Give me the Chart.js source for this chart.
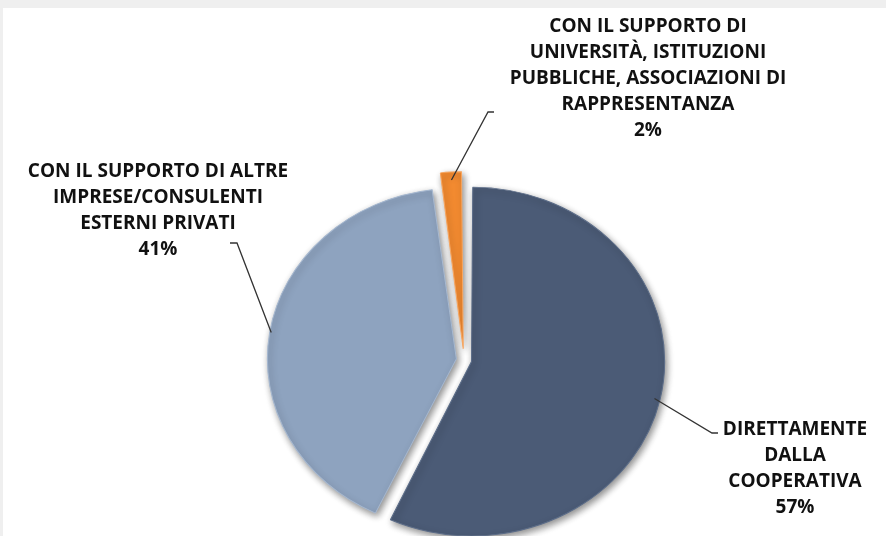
<!DOCTYPE html>
<html>
<head>
<meta charset="utf-8">
<script src="https://cdn.jsdelivr.net/npm/chart.js@4/dist/chart.umd.min.js"></script>
<style>
  html, body { margin: 0; padding: 0; background: #efefef; overflow: hidden; }
  #pieChart { display: block; margin: 8px 0 0 3px; background: #fff; }
</style>
</head>
<body>
<canvas id="pieChart" width="883" height="528"></canvas>
<script>
// categories (label lines), shares in percent, slice colours
const categories = [
  ['DIRETTAMENTE', 'DALLA', 'COOPERATIVA'],
  ['CON IL SUPPORTO DI ALTRE', 'IMPRESE/CONSULENTI', 'ESTERNI PRIVATI'],
  ['CON IL SUPPORTO DI', 'UNIVERSITÀ, ISTITUZIONI', 'PUBBLICHE, ASSOCIAZIONI DI', 'RAPPRESENTANZA']
];
const shares = [57, 41, 2];
const sliceColors = ['#4b5b76', '#8ea3bf', '#f28a30'];
const edgeColors = ['#5c6d89', '#a6b8d0', '#f7a660'];

// label placement (canvas px): text centre x, first line y, elbow of the leader line
const labelSpots = [
  { x: 792, y: 422, elbow: [709, 425], tick: 6 },
  { x: 155, y: 164, elbow: [234, 235], tick: -7 },
  { x: 645, y: 19, elbow: [485, 104], tick: 6 }
];
const lineGap = 26;
const squash = { x: 1.03, y: 0.93 };

const ellipsePlugin = {
  id: 'ellipse',
  beforeDatasetsDraw(chart) {
    const arc = chart.getDatasetMeta(0).data[0];
    const ctx = chart.ctx;
    ctx.save();
    ctx.translate(arc.x, arc.y);
    ctx.scale(squash.x, squash.y);
    ctx.translate(-arc.x, -arc.y);
    ctx.shadowColor = 'rgba(0,0,0,0.45)';
    ctx.shadowBlur = 7;
    ctx.shadowOffsetX = 2;
    ctx.shadowOffsetY = 3;
  },
  afterDatasetsDraw(chart) {
    chart.ctx.restore();
  }
};

const labelPlugin = {
  id: 'calloutLabels',
  afterDatasetsDraw(chart) {
    const ctx = chart.ctx;
    const arcs = chart.getDatasetMeta(0).data;
    ctx.save();
    ctx.strokeStyle = '#333';
    ctx.lineWidth = 1.3;
    ctx.fillStyle = '#111';
    ctx.font = 'bold 19px "Open Sans"';
    ctx.textAlign = 'center';
    ctx.textBaseline = 'middle';
    arcs.forEach((arc, i) => {
      const p = arc.getProps(['x', 'y', 'startAngle', 'endAngle', 'outerRadius']);
      const mid = (p.startAngle + p.endAngle) / 2;
      const r = p.outerRadius + (arc.options.offset || 0) / 4 + 2;
      const sx = p.x + squash.x * r * Math.cos(mid);
      const sy = p.y + squash.y * r * Math.sin(mid);
      const spot = labelSpots[i];
      ctx.beginPath();
      ctx.moveTo(sx, sy);
      ctx.lineTo(spot.elbow[0], spot.elbow[1]);
      ctx.lineTo(spot.elbow[0] + spot.tick, spot.elbow[1]);
      ctx.stroke();
      const lines = categories[i].concat([shares[i] + '%']);
      lines.forEach((t, k) => ctx.fillText(t, spot.x, spot.y + k * lineGap));
    });
    ctx.restore();
  }
};

new Chart(document.getElementById('pieChart'), {
  type: 'pie',
  data: {
    labels: categories.map(c => c.join(' ')),
    datasets: [{
      data: shares,
      backgroundColor: sliceColors,
      borderColor: edgeColors,
      borderWidth: 1,
      offset: [30, 30, 48],
      clip: false
    }]
  },
  options: {
    responsive: false,
    animation: false,
    radius: 180,
    layout: { padding: { top: 176, bottom: 0, left: 339, right: 300 } },
    plugins: {
      legend: { display: false },
      tooltip: { enabled: false }
    }
  },
  plugins: [ellipsePlugin, labelPlugin]
});
</script>
</body>
</html>
